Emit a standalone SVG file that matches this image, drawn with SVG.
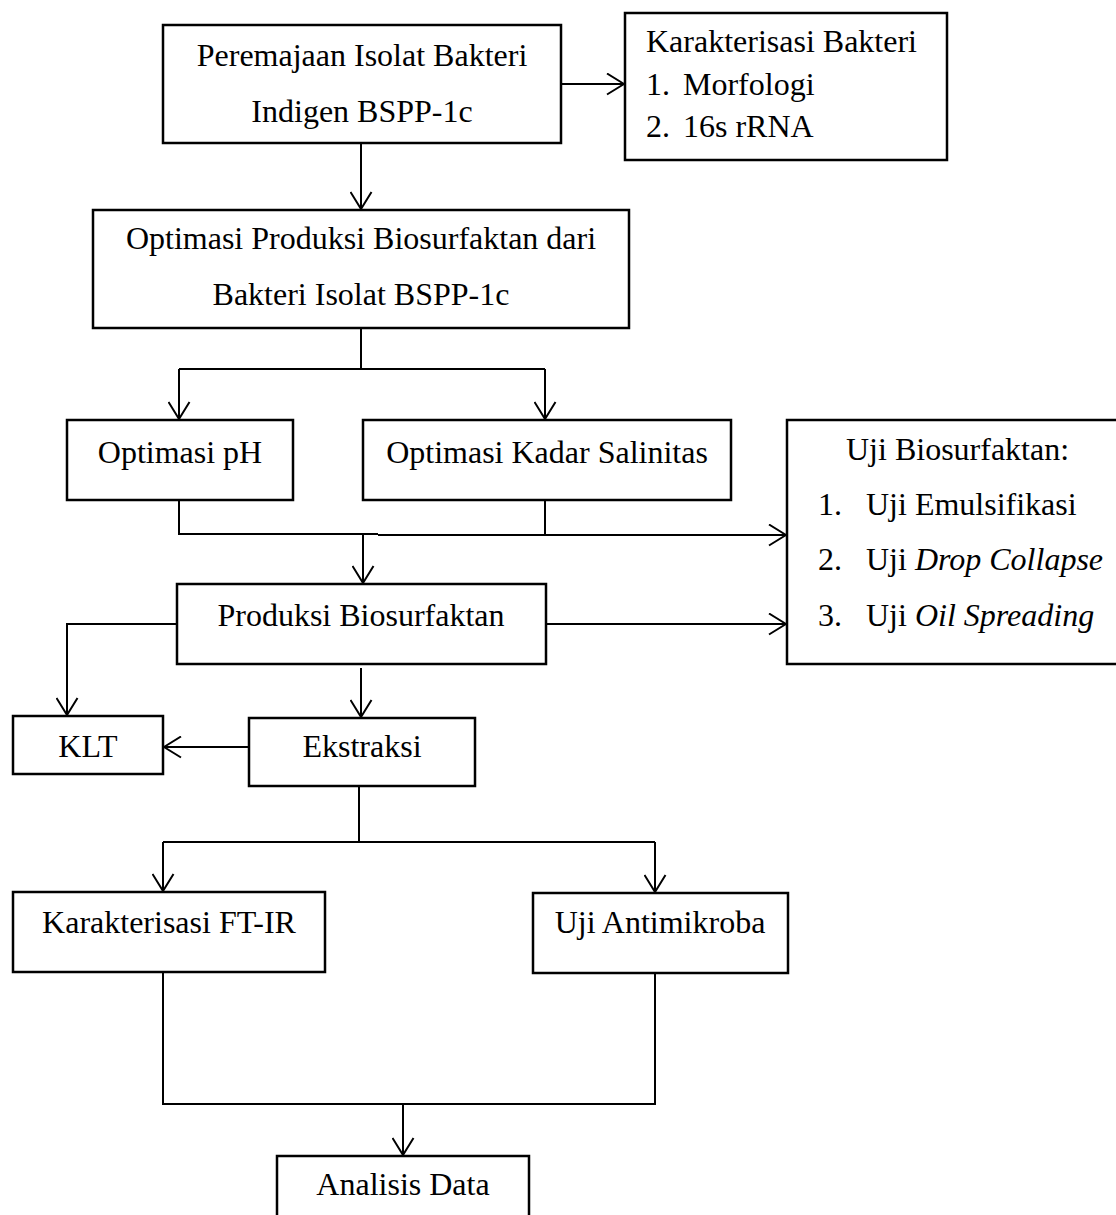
<svg xmlns="http://www.w3.org/2000/svg" width="1116" height="1215" viewBox="0 0 1116 1215">
<style>
.box{fill:#fff;stroke:#000;stroke-width:2.5}
.t{font-family:"Liberation Serif","Times New Roman",serif;font-size:32px;fill:#000}
.c{text-anchor:middle}
.ln{fill:none;stroke:#000;stroke-width:2}
.ar{marker-end:url(#arr)}
</style>
<defs>
<marker id="arr" markerUnits="userSpaceOnUse" viewBox="-1 -1 19 23" refX="17" refY="10.5" markerWidth="19" markerHeight="23" orient="auto">
<path d="M0,0 L17,10.5 L0,21" fill="none" stroke="#000" stroke-width="2"/>
</marker>
</defs>
<rect width="1116" height="1215" fill="#fff"/>
<g id="connectors">
<path class="ln ar" d="M561,84 H624"/>
<path class="ln ar" d="M361,143 V209"/>
<path class="ln" d="M361,328 V369 M179,369 H545"/>
<path class="ln ar" d="M179,369 V419"/>
<path class="ln ar" d="M545,369 V419"/>
<path class="ln" d="M179,500 V534 H378 M545,500 V535"/>
<path class="ln ar" d="M378,535 H786"/>
<path class="ln ar" d="M363,534 V583"/>
<path class="ln ar" d="M177,624 H67 V715"/>
<path class="ln ar" d="M546,624 H786"/>
<path class="ln ar" d="M361,668 V717"/>
<path class="ln ar" d="M249,747 H164"/>
<path class="ln" d="M359,786 V842 M163,842 H655"/>
<path class="ln ar" d="M163,842 V891"/>
<path class="ln ar" d="M655,842 V892"/>
<path class="ln" d="M163,972 V1104 H655 V973"/>
<path class="ln ar" d="M403,1104 V1155"/>
</g>
<g id="n-peremajaan">
<rect class="box" x="163" y="25" width="398" height="118"/>
<text class="t c" x="362" y="66">Peremajaan Isolat Bakteri</text>
<text class="t c" x="362" y="122">Indigen BSPP-1c</text>
</g>
<g id="n-karakterisasi-bakteri">
<rect class="box" x="625" y="13" width="322" height="147"/>
<text class="t" x="646" y="52">Karakterisasi Bakteri</text>
<text class="t" x="646" y="95">1.</text>
<text class="t" x="683" y="95">Morfologi</text>
<text class="t" x="646" y="137">2.</text>
<text class="t" x="683" y="137">16s rRNA</text>
</g>
<g id="n-optimasi-produksi">
<rect class="box" x="93" y="210" width="536" height="118"/>
<text class="t c" x="361" y="249">Optimasi Produksi Biosurfaktan dari</text>
<text class="t c" x="361" y="305">Bakteri Isolat BSPP-1c</text>
</g>
<g id="n-optimasi-ph">
<rect class="box" x="67" y="420" width="226" height="80"/>
<text class="t c" x="180" y="463">Optimasi pH</text>
</g>
<g id="n-optimasi-salinitas">
<rect class="box" x="363" y="420" width="368" height="80"/>
<text class="t c" x="547" y="463">Optimasi Kadar Salinitas</text>
</g>
<g id="n-uji-biosurfaktan">
<rect class="box" x="787" y="420" width="340" height="244"/>
<text class="t" x="846" y="460">Uji Biosurfaktan:</text>
<text class="t" x="818" y="515">1.</text>
<text class="t" x="866" y="515">Uji Emulsifikasi</text>
<text class="t" x="818" y="570">2.</text>
<text class="t" x="866" y="570">Uji <tspan font-style="italic">Drop Collapse</tspan></text>
<text class="t" x="818" y="626">3.</text>
<text class="t" x="866" y="626">Uji <tspan font-style="italic">Oil Spreading</tspan></text>
</g>
<g id="n-produksi">
<rect class="box" x="177" y="584" width="369" height="80"/>
<text class="t c" x="361" y="626">Produksi Biosurfaktan</text>
</g>
<g id="n-klt">
<rect class="box" x="13" y="716" width="150" height="58"/>
<text class="t c" x="88" y="757">KLT</text>
</g>
<g id="n-ekstraksi">
<rect class="box" x="249" y="718" width="226" height="68"/>
<text class="t c" x="362" y="757">Ekstraksi</text>
</g>
<g id="n-ftir">
<rect class="box" x="13" y="892" width="312" height="80"/>
<text class="t c" x="169" y="933">Karakterisasi FT-IR</text>
</g>
<g id="n-antimikroba">
<rect class="box" x="533" y="893" width="255" height="80"/>
<text class="t c" x="660" y="933">Uji Antimikroba</text>
</g>
<g id="n-analisis">
<rect class="box" x="277" y="1156" width="252" height="70"/>
<text class="t c" x="403" y="1195">Analisis Data</text>
</g>
</svg>
